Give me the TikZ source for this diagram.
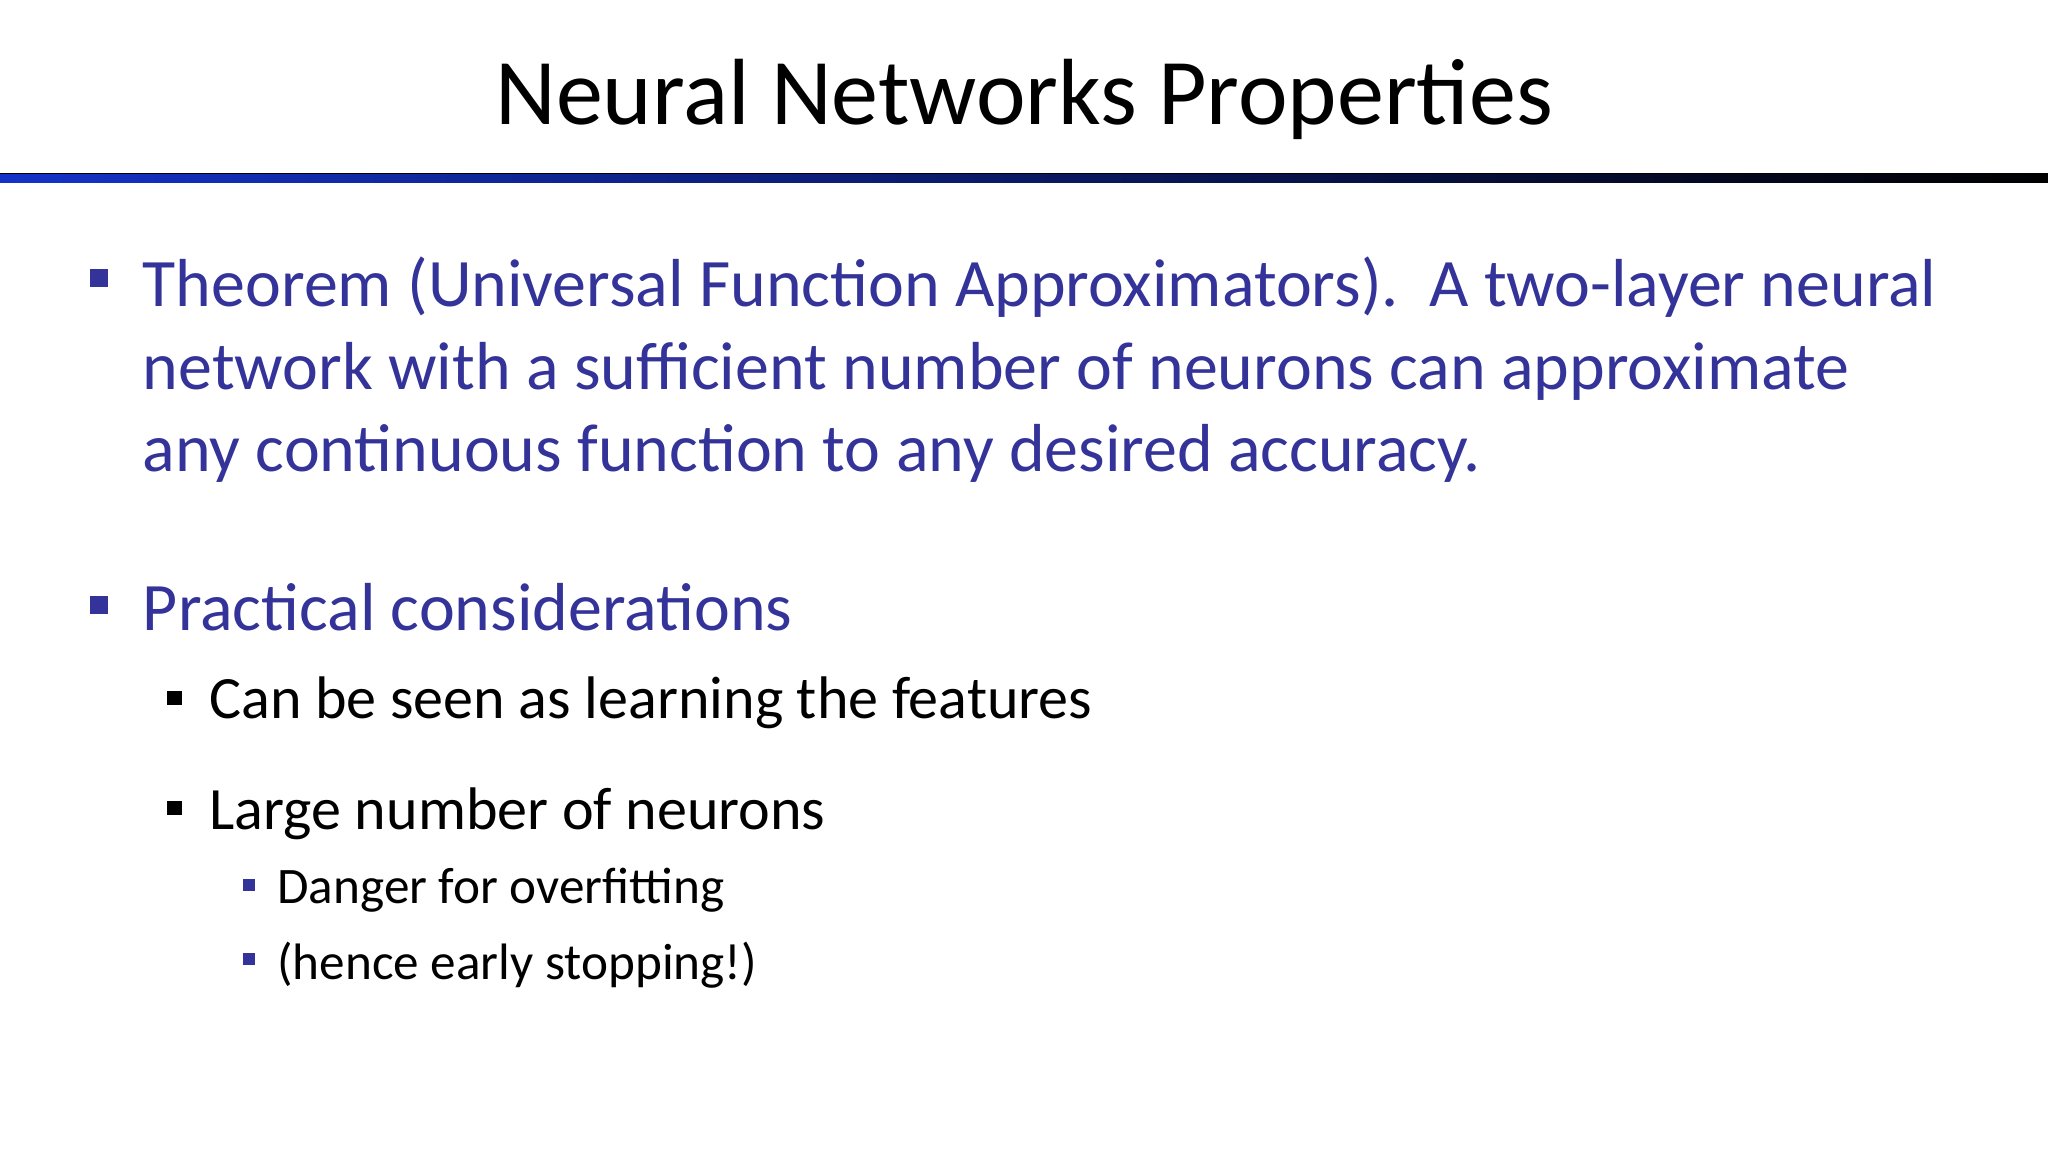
\documentclass[tikz,border=0pt]{standalone}
\usepackage{fontspec}
\setmainfont{Carlito}
\definecolor{tblue}{RGB}{51,51,153}
\definecolor{barblue}{RGB}{20,50,200}
\begin{document}
\begin{tikzpicture}[x=0.5pt,y=-0.5pt,
  lone/.style={anchor=base west,inner sep=0pt,text=tblue,font=\fontsize{26}{31}\selectfont},
  ltwo/.style={anchor=base west,inner sep=0pt,text=black,font=\fontsize{23}{28}\selectfont},
  lthree/.style={anchor=base west,inner sep=0pt,text=black,font=\fontsize{19.6}{24}\selectfont}]
\useasboundingbox (0,0) rectangle (1568,882);
\fill[white] (0,0) rectangle (1568,882);
\node[anchor=base,inner sep=0pt,font=\fontsize{36}{43}\selectfont] (title) at (784,95) {Neural Networks Properties};
\shade[left color=barblue,right color=black] (0,133) rectangle (1568,140);
\draw[black,line width=0.6pt] (0,133) -- (1568,133);
% level 1 bullets
\fill[tblue] (69,206) rectangle (83,220);
\fill[tblue] (69,456) rectangle (83,470);
\node[lone] (t1) at (109,235) {Theorem (Universal Function Approximators).\ \ A two-layer neural};
\node[lone] (t2) at (109,298) {network with a sufficient number of neurons can approximate};
\node[lone] (t3) at (109,361) {any continuous function to any desired accuracy.};
\node[lone] (p) at (109,483) {Practical considerations};
% level 2
\fill[black] (128,529) rectangle (139,540);
\fill[black] (128,613) rectangle (139,624);
\node[ltwo] (c1) at (160,550) {Can be seen as learning the features};
\node[ltwo] (c2) at (160,635) {Large number of neurons};
% level 3
\fill[tblue] (186,673) rectangle (195,682);
\fill[tblue] (186,730) rectangle (195,739);
\node[lthree] (d1) at (212,692) {Danger for overfitting};
\node[lthree] (d2) at (212,750) {(hence early stopping!)};
\end{tikzpicture}
\end{document}
